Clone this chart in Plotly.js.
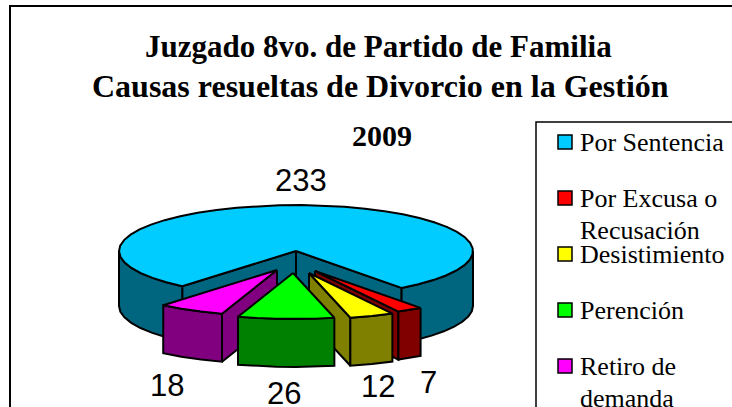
<!DOCTYPE html>
<html>
<head>
<meta charset="utf-8">
<script src="https://cdn.plot.ly/plotly-3.0.1.min.js"></script>
<style>
html, body { margin: 0; padding: 0; background: #fff; }
#chart { width: 732px; height: 407px; }
</style>
</head>
<body>
<div id="chart"></div>
<script>
var categories = ['Por Sentencia', 'Por Excusa o<br>Recusación', 'Desistimiento', 'Perención', 'Retiro de<br>demanda'];
var values = [233, 7, 12, 26, 18];
var topColors = ['#00ccff', '#ff0000', '#ffff00', '#00ff00', '#ff00ff'];
var sideColors = ['#006680', '#800000', '#808000', '#008000', '#800080'];
var titleLines = ['Juzgado 8vo. de Partido de Familia', 'Causas resueltas de Divorcio en la Gestión', '2009'];

// projection of the tilted pie, in page pixels
var cx = 296, cy = 251, rx = 177, ry = 46;
var firstAngle = 220;
var depths = [55, 48, 48, 48, 48];
var shiftX = [0, 19, 13, -3, -19];
var shiftY = [0, 20, 22, 22, 19];
var labelX = [301, 428, 378, 284, 167];
var labelY = [180, 382, 386, 393, 385];
var drawOrder = [0, 1, 2, 4, 3];

var total = values.reduce(function (a, b) { return a + b; }, 0);

function px(i, a) { return cx + shiftX[i] + rx * Math.sin(a * Math.PI / 180); }
function py(i, a) { return cy + shiftY[i] - ry * Math.cos(a * Math.PI / 180); }

function poly(xs, ys, color) {
    return {
        x: xs, y: ys, type: 'scatter', mode: 'lines', fill: 'toself', fillcolor: color,
        line: { color: '#000', width: 2, shape: 'linear' }, hoverinfo: 'skip', showlegend: false
    };
}

// angles along an arc, coarse on purpose: the original edge is faceted
function arc(a0, a1) {
    var out = [], n = Math.max(1, Math.round((a1 - a0) / 7));
    for (var k = 0; k <= n; k++) out.push(a0 + (a1 - a0) * k / n);
    return out;
}

function wall(i, a0, a1, color) {
    var angles = arc(a0, a1), xs = [], ys = [];
    angles.forEach(function (a) { xs.push(px(i, a)); ys.push(py(i, a)); });
    angles.slice().reverse().forEach(function (a) { xs.push(px(i, a)); ys.push(py(i, a) + depths[i]); });
    xs.push(xs[0]); ys.push(ys[0]);
    return poly(xs, ys, color);
}

function face(i, a) {
    var ax = cx + shiftX[i], ay = cy + shiftY[i], d = depths[i];
    return poly([ax, px(i, a), px(i, a), ax, ax], [ay, py(i, a), py(i, a) + d, ay + d, ay], sideColors[i]);
}

// each slice's start and end angle, clockwise from 12 o'clock
var starts = [], ends = [], running = firstAngle;
values.forEach(function (v) {
    starts.push(running);
    running += v / total * 360;
    ends.push(running);
});

var data = [];
drawOrder.forEach(function (i) {
    var s = starts[i], e = ends[i];
    var visS = s % 360, visE = e % 360;
    if (visS > 180) data.push(face(i, s));
    if (visE < 180) data.push(face(i, e));
    // outer wall is only seen on the front half (90..270, and again at 450..630)
    [[90, 270], [450, 630]].forEach(function (r) {
        var a0 = Math.max(s, r[0]), a1 = Math.min(e, r[1]);
        if (a1 > a0) data.push(wall(i, a0, a1, sideColors[i]));
    });
    var angles = arc(s, e);
    var xs = [cx + shiftX[i]], ys = [cy + shiftY[i]];
    angles.forEach(function (a) { xs.push(px(i, a)); ys.push(py(i, a)); });
    xs.push(xs[0]); ys.push(ys[0]);
    data.push(poly(xs, ys, topColors[i]));
});

var annotations = [];
function addText(text, x, y, font, anchor) {
    annotations.push({
        text: text, x: x, y: y, xref: 'x', yref: 'y', showarrow: false,
        xanchor: anchor, yanchor: 'middle', font: font
    });
}

var titleSize = [31, 32, 30];
var titleY = [46, 86, 135];
var titleX = [378, 380, 382];
titleLines.forEach(function (t, i) {
    addText('<b>' + t + '</b>', titleX[i], titleY[i], { family: 'Liberation Serif', size: titleSize[i], color: '#000' }, 'center');
});

values.forEach(function (v, i) {
    addText(String(v), labelX[i], labelY[i], { family: 'Liberation Sans', size: 31, color: '#000' }, 'center');
});

// legend, drawn by hand because of its tight rows
var swatchY = [142, 198, 254, 310, 366];
var shapes = [
    { type: 'rect', xref: 'x', yref: 'y', x0: 10, x1: 780, y0: 6, y1: 440, line: { color: '#000', width: 2 }, fillcolor: 'rgba(0,0,0,0)', layer: 'below' },
    { type: 'rect', xref: 'x', yref: 'y', x0: 536, x1: 780, y0: 122, y1: 440, line: { color: '#000', width: 1.5 }, fillcolor: 'rgba(0,0,0,0)', layer: 'below' }
];
categories.forEach(function (name, i) {
    shapes.push({
        type: 'rect', xref: 'x', yref: 'y', x0: 558, x1: 572, y0: swatchY[i] - 7, y1: swatchY[i] + 7,
        fillcolor: topColors[i], line: { color: '#000', width: 1.5 }
    });
    name.split('<br>').forEach(function (line, k) {
        addText(line, 578, swatchY[i] + k * 32, { family: 'Liberation Serif', size: 26, color: '#000' }, 'left');
    });
});

var layout = {
    width: 732,
    height: 407,
    margin: { l: 0, r: 0, t: 0, b: 0 },
    paper_bgcolor: '#fff',
    plot_bgcolor: '#fff',
    showlegend: false,
    xaxis: { range: [0, 732], visible: false, fixedrange: true },
    yaxis: { range: [407, 0], visible: false, fixedrange: true },
    shapes: shapes,
    annotations: annotations
};

Plotly.newPlot('chart', data, layout, { displayModeBar: false, staticPlot: true });
</script>
</body>
</html>
